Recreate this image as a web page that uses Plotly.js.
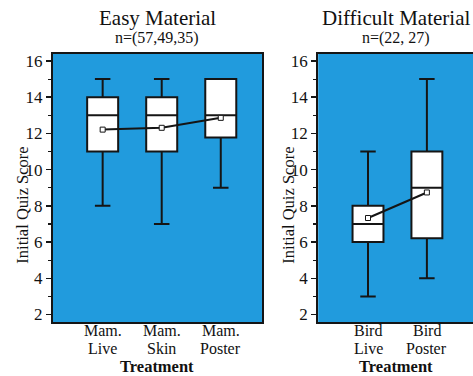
<!DOCTYPE html>
<html>
<head>
<meta charset="utf-8">
<script src="https://cdn.plot.ly/plotly-3.0.1.min.js"></script>
<style>
html, body { margin: 0; padding: 0; overflow: hidden; background: #fff; }
#chart { width: 480px; height: 376px; }
</style>
</head>
<body>
<div id="chart"></div>
<script>
// Easy material panel
var easyCategories = ['Mam. Live', 'Mam. Skin', 'Mam. Poster'];
var easyQ1 = [11, 11, 11.77];
var easyMedian = [13, 13, 13];
var easyQ3 = [14, 14, 15];
var easyLower = [8, 7, 9];
var easyUpper = [15, 15, 15];
var easyMean = [12.21, 12.31, 12.86];
var easyTitle = 'Easy Material';
var easySubtitle = 'n=(57,49,35)';

// Difficult material panel
var hardCategories = ['Bird Live', 'Bird Poster'];
var hardQ1 = [6, 6.21];
var hardMedian = [7, 9];
var hardQ3 = [8, 11];
var hardLower = [3, 4];
var hardUpper = [11, 15];
var hardMean = [7.33, 8.74];
var hardTitle = 'Difficult Material';
var hardSubtitle = 'n=(22, 27)';

var yTitle = 'Initial Quiz Score';
var xTitle = 'Treatment';

var FONT = '"Liberation Serif", "Times New Roman", serif';
var INK = '#151515';
var BLUE = '#219bdd';

function boxTrace(cats, q1, med, q3, lo, hi, xa, ya) {
  return {
    type: 'box', x: cats, q1: q1, median: med, q3: q3,
    lowerfence: lo, upperfence: hi,
    boxpoints: false, whiskerwidth: 0.5,
    fillcolor: '#ffffff', line: { color: INK, width: 2 },
    xaxis: xa, yaxis: ya, hoverinfo: 'skip', showlegend: false
  };
}
function meanTrace(cats, mean, xa, ya) {
  return {
    type: 'scatter', mode: 'lines+markers', x: cats, y: mean,
    line: { color: INK, width: 2 },
    marker: { symbol: 'square', size: 5, color: '#ffffff', line: { color: INK, width: 1 } },
    xaxis: xa, yaxis: ya, hoverinfo: 'skip', showlegend: false
  };
}

var data = [
  boxTrace(easyCategories, easyQ1, easyMedian, easyQ3, easyLower, easyUpper, 'x', 'y'),
  meanTrace(easyCategories, easyMean, 'x', 'y'),
  boxTrace(hardCategories, hardQ1, hardMedian, hardQ3, hardLower, hardUpper, 'x2', 'y2'),
  meanTrace(hardCategories, hardMean, 'x2', 'y2')
];

function xAxis(domain, range, cats) {
  return {
    domain: domain, range: range, type: 'category',
    categoryorder: 'array', categoryarray: cats,
    showticklabels: false, ticks: '',
    showline: true, mirror: true, linecolor: INK, linewidth: 2,
    showgrid: false, zeroline: false, fixedrange: true
  };
}
function yAxis(anchor) {
  return {
    anchor: anchor, range: [1.587, 16.386], tick0: 2, dtick: 2,
    ticks: 'outside', ticklen: 5, tickwidth: 1.5, tickcolor: INK,
    minor: { dtick: 1, ticks: 'outside', ticklen: 3, tickwidth: 1.2, tickcolor: INK, showgrid: false },
    tickfont: { family: FONT, size: 17, color: '#111' },
    showline: true, mirror: true, linecolor: INK, linewidth: 2,
    showgrid: false, zeroline: false, fixedrange: true
  };
}

var annotations = [];
function panelText(xref, cats, title, sub) {
  var domRef = xref + ' domain';
  annotations.push({ xref: domRef, yref: 'paper', x: 0.5, y: 1.1359, text: title, showarrow: false,
    borderpad: 0,
    xanchor: 'center', yanchor: 'middle', font: { family: FONT, size: 21, color: '#111' } });
  annotations.push({ xref: domRef, yref: 'paper', x: 0.5, y: 1.0585, text: sub, showarrow: false,
    borderpad: 0,
    xanchor: 'center', yanchor: 'middle', font: { family: FONT, size: 16, color: '#111' } });
  annotations.push({ xref: domRef, yref: 'paper', x: 0.5, y: -0.1657, text: '<b>' + xTitle + '</b>', showarrow: false,
    borderpad: 0,
    xanchor: 'center', yanchor: 'middle', font: { family: FONT, size: 16.5, color: '#111' } });
  annotations.push({ xref: domRef, yref: 'paper', x: 0, xshift: -30.5, y: 0.436, text: yTitle, textangle: -90,
    showarrow: false, borderpad: 0,
    xanchor: 'center', yanchor: 'middle', font: { family: FONT, size: 16.5, color: '#111' } });
  cats.forEach(function (c, i) {
    var parts = c.split(' ');
    annotations.push({ xref: xref, yref: 'paper', x: i, y: -0.0309, text: parts[0], showarrow: false,
      borderpad: 0,
      xanchor: 'center', yanchor: 'middle', font: { family: FONT, size: 16, color: '#111' } });
    annotations.push({ xref: xref, yref: 'paper', x: i, y: -0.0976, text: parts.slice(1).join(' '), showarrow: false,
      borderpad: 0,
      xanchor: 'center', yanchor: 'middle', font: { family: FONT, size: 16, color: '#111' } });
  });
}
panelText('x', easyCategories, easyTitle, easySubtitle);
panelText('x2', hardCategories, hardTitle, hardSubtitle);

var layout = {
  width: 480, height: 376,
  margin: { l: 52.5, r: 5.5, t: 54, b: 53.5, pad: 0 },
  paper_bgcolor: '#ffffff', plot_bgcolor: BLUE,
  boxgap: 0.25,
  xaxis: xAxis([0, 0.4964], [-0.841, 2.698], easyCategories),
  yaxis: yAxis('x'),
  xaxis2: xAxis([0.6299, 1], [-0.846, 1.80], hardCategories),
  yaxis2: yAxis('x2'),
  annotations: annotations,
  showlegend: false
};

Plotly.newPlot('chart', data, layout, { displayModeBar: false, staticPlot: true });
</script>
</body>
</html>
